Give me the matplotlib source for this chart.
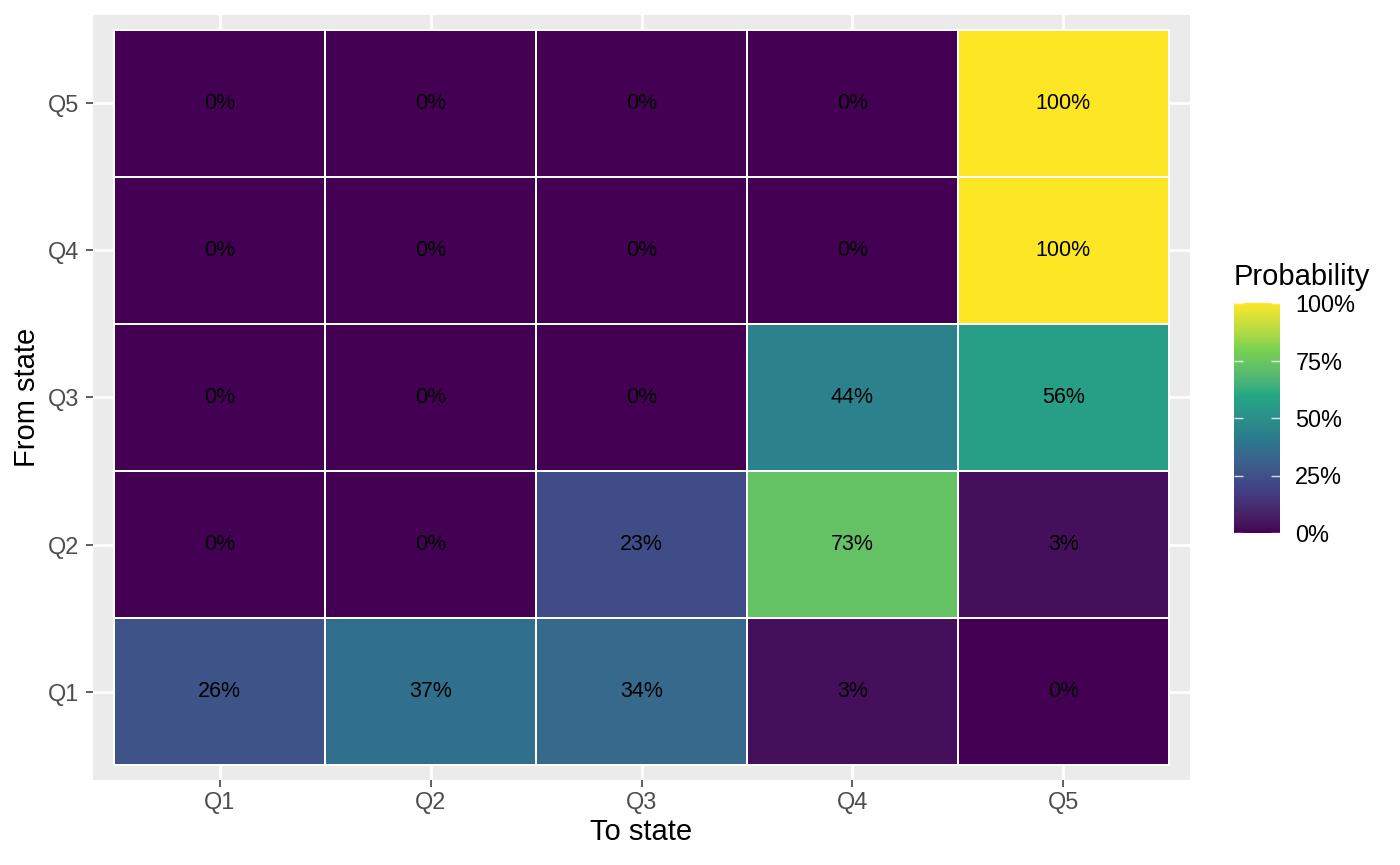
import matplotlib
matplotlib.use("Agg")
import matplotlib.pyplot as plt
import numpy as np
from matplotlib import cm, colors

plt.rcParams['font.family'] = ['Liberation Sans', 'DejaVu Sans']

to_states = ["Q1", "Q2", "Q3", "Q4", "Q5"]
from_states = ["Q1", "Q2", "Q3", "Q4", "Q5"]
# rows: from state Q1..Q5 ; columns: to state Q1..Q5 (percent)
from_Q1 = [26, 37, 34, 3, 0]
from_Q2 = [0, 0, 23, 73, 3]
from_Q3 = [0, 0, 0, 44, 56]
from_Q4 = [0, 0, 0, 0, 100]
from_Q5 = [0, 0, 0, 0, 100]
legend_ticks = [0, 25, 50, 75, 100]

Z = np.array([from_Q1, from_Q2, from_Q3, from_Q4, from_Q5], dtype=float) / 100.0

# ggplot-style viridis: 6 anchor colours interpolated in CIELAB
anchors = ["#440154", "#414487", "#2A788E", "#22A884", "#7AD151", "#FDE725"]

def srgb_to_lab(rgb):
    rgb = np.asarray(rgb, float)
    lin = np.where(rgb <= 0.04045, rgb / 12.92, ((rgb + 0.055) / 1.055) ** 2.4)
    M = np.array([[0.4124, 0.3576, 0.1805], [0.2126, 0.7152, 0.0722], [0.0193, 0.1192, 0.9505]])
    xyz = lin @ M.T
    xyz = xyz / np.array([0.95047, 1.0, 1.08883])
    f = np.where(xyz > 0.008856, np.cbrt(xyz), 7.787 * xyz + 16 / 116)
    L = 116 * f[..., 1] - 16
    a = 500 * (f[..., 0] - f[..., 1])
    b = 200 * (f[..., 1] - f[..., 2])
    return np.stack([L, a, b], -1)

def lab_to_srgb(lab):
    L, a, b = lab[..., 0], lab[..., 1], lab[..., 2]
    fy = (L + 16) / 116
    fx = fy + a / 500
    fz = fy - b / 200
    f = np.stack([fx, fy, fz], -1)
    xyz = np.where(f ** 3 > 0.008856, f ** 3, (f - 16 / 116) / 7.787)
    xyz = xyz * np.array([0.95047, 1.0, 1.08883])
    Minv = np.linalg.inv(np.array([[0.4124, 0.3576, 0.1805], [0.2126, 0.7152, 0.0722], [0.0193, 0.1192, 0.9505]]))
    lin = xyz @ Minv.T
    lin = np.clip(lin, 0, 1)
    rgb = np.where(lin <= 0.0031308, 12.92 * lin, 1.055 * lin ** (1 / 2.4) - 0.055)
    return np.clip(rgb, 0, 1)

anchor_lab = srgb_to_lab([colors.to_rgb(c) for c in anchors])
pos = np.linspace(0, 1, len(anchors))
tt = np.linspace(0, 1, 512)
lab = np.stack([np.interp(tt, pos, anchor_lab[:, k]) for k in range(3)], -1)
cmap = colors.ListedColormap(lab_to_srgb(lab))
norm = colors.Normalize(0, 1)

fig = plt.figure(figsize=(14, 8.65), dpi=100)
ax = fig.add_axes([93/1400, 85/865, (1190-93)/1400, (780-15)/865])
ax.set_facecolor("#EBEBEB")

xe = np.arange(len(to_states) + 1) + 0.5
ye = np.arange(len(from_states) + 1) + 0.5
ax.pcolormesh(xe, ye, Z, cmap=cmap, norm=norm, edgecolors="white",
              linewidth=1.1, zorder=2)

for i in range(len(from_states)):
    for j in range(len(to_states)):
        ax.text(j + 1, i + 1, f"{int(round(Z[i, j]*100))}%", ha="center",
                va="center", fontsize=15.5, color="black", zorder=3)

ax.set_xlim(0.4, len(to_states) + 0.6)
ax.set_ylim(0.4, len(from_states) + 0.6)
ax.set_xticks(np.arange(1, len(to_states) + 1))
ax.set_xticklabels(to_states)
ax.set_yticks(np.arange(1, len(from_states) + 1))
ax.set_yticklabels(from_states)
ax.grid(True, color="white", linewidth=2.0, zorder=0)
ax.set_axisbelow(True)
for s in ax.spines.values():
    s.set_visible(False)
ax.tick_params(axis="both", length=5.2, width=1.1, color="#333333",
               labelcolor="#4D4D4D", labelsize=16.9)
ax.tick_params(axis="x", pad=2.5)
ax.tick_params(axis="y", pad=4.5)
ax.set_xlabel("To state", fontsize=21, color="black")
ax.set_ylabel("From state", fontsize=21, color="black")
ax.xaxis.label.set_va("center")
ax.yaxis.label.set_va("center")
ax.yaxis.label.set_ha("center")
ax.xaxis.set_label_coords(0.5, -(832 - 780) / 765)
ax.yaxis.set_label_coords((27 - 93) / 1097, 0.5)

# colorbar
cax = fig.add_axes([1234/1400, (865-533)/865, 46/1400, 230/865])
cb = fig.colorbar(cm.ScalarMappable(norm=norm, cmap=cmap), cax=cax)
cb.outline.set_visible(False)
tv = [t/100 for t in legend_ticks]
cb.set_ticks(tv)
cb.set_ticklabels([f"{t}%" for t in legend_ticks])
cax.tick_params(length=0, labelsize=16.9, pad=11, labelcolor="black")
cax.hlines(tv, 0, 0.2, color="white", linewidth=1, alpha=0.8)
cax.hlines(tv, 0.8, 1, color="white", linewidth=1, alpha=0.8)
cax.set_xlim(0, 1)
fig.text(1234/1400, (865-277)/865, "Probability", fontsize=21,
         ha="left", va="center", color="black")

fig.savefig("out.png", dpi=100)
